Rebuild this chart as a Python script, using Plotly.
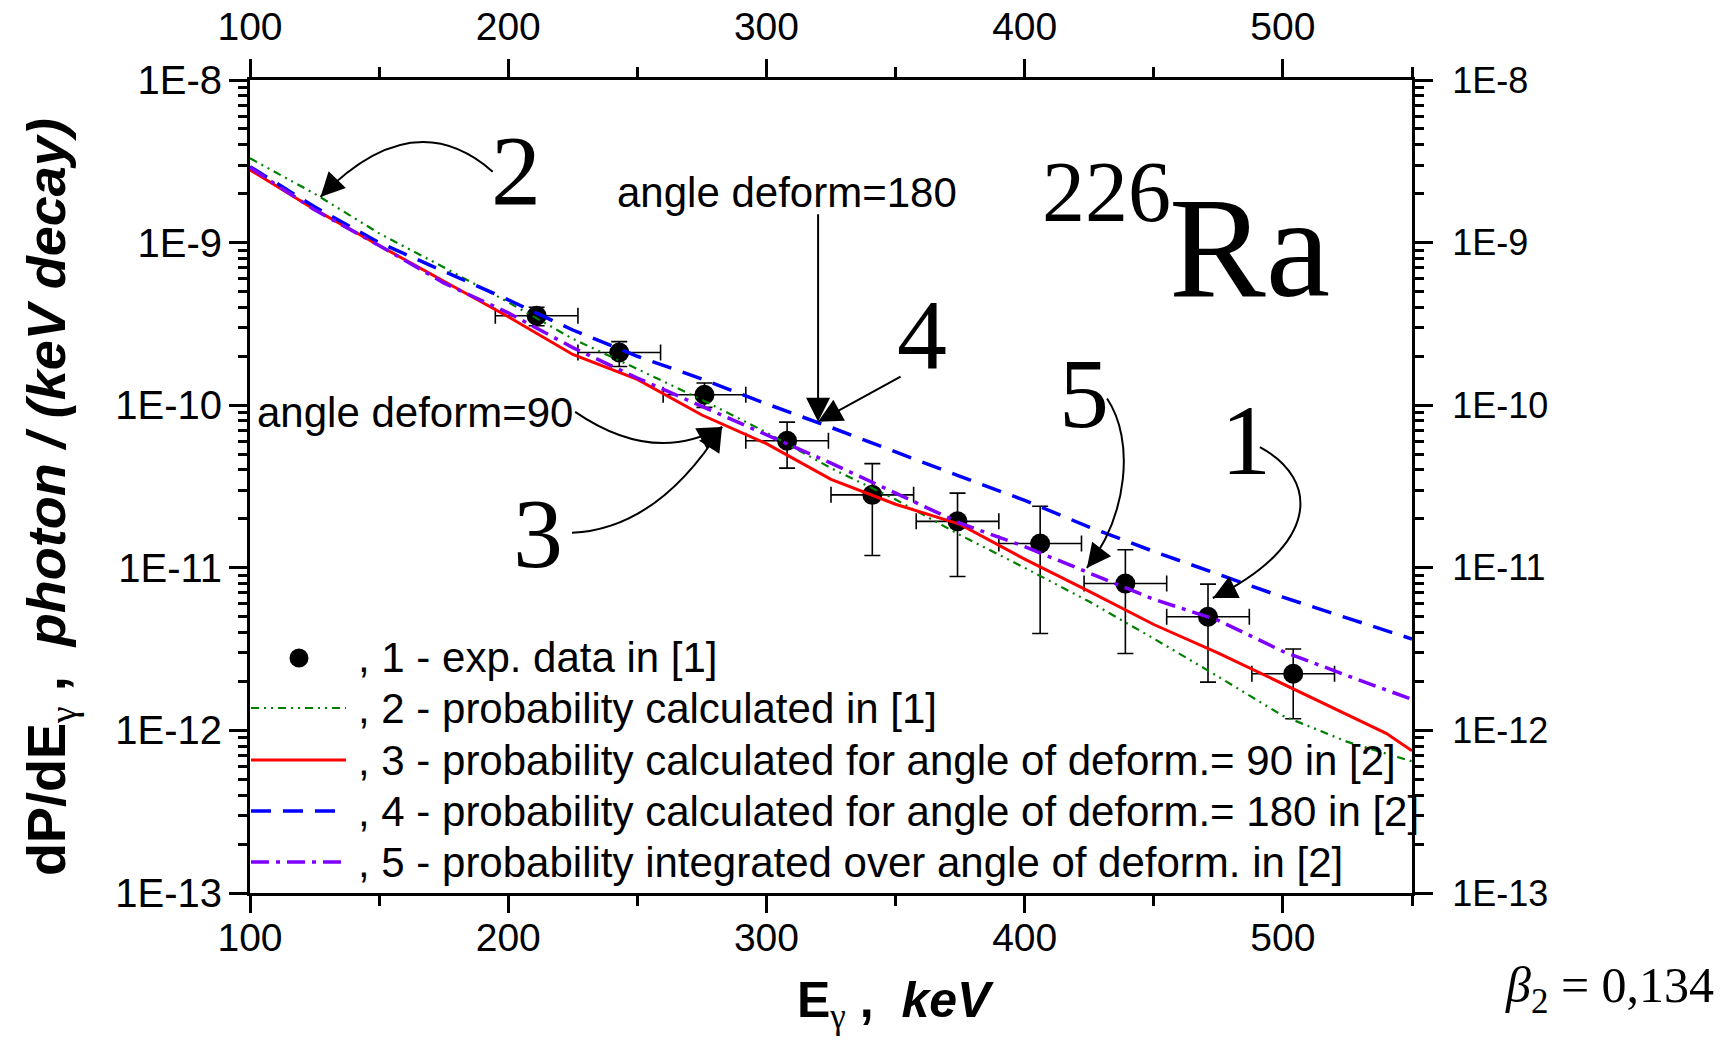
import math
import plotly.graph_objects as go

# ---------------- data ----------------
# experimental points, exp. data in [1]
e_exp = [211, 243, 276, 308, 341, 374, 406, 439, 471, 504]
p_exp = [3.55e-10, 2.11e-10, 1.16e-10, 6.04e-11, 2.81e-11, 1.93e-11, 1.41e-11, 8.0e-12, 5.0e-12, 2.23e-12]
p_exp_hi = [4.0e-10, 2.46e-10, 1.37e-10, 7.87e-11, 4.37e-11, 2.88e-11, 2.39e-11, 1.29e-11, 7.94e-12, 3.17e-12]
p_exp_lo = [3.08e-10, 1.73e-10, 9.7e-11, 4.1e-11, 1.19e-11, 8.85e-12, 3.94e-12, 2.97e-12, 1.98e-12, 1.18e-12]
e_exp_err = [16, 16, 16, 16, 16, 16, 16, 16, 16, 16]

# calculated spectra, photon energy grid (keV)
e_calc = [100, 125, 150, 175, 200, 225, 250, 275, 300, 325, 350, 375, 400, 425, 450, 475, 500, 525, 540, 550]
# 2 - probability calculated in [1]
p_calc_ref1 = [3.3e-9, 2.0e-9, 1.14e-9, 7.05e-10, 4.3e-10, 2.56e-10, 1.67e-10, 1.08e-10, 6.8e-11, 4.1e-11,
               2.63e-11, 1.59e-11, 1.0e-11, 6.2e-12, 3.67e-12, 2.14e-12, 1.23e-12, 8.5e-13, 7.2e-13, 6.45e-13]
# 3 - angle of deformation 90
p_calc_90 = [2.8e-9, 1.6e-9, 9.6e-10, 5.82e-10, 3.5e-10, 2.05e-10, 1.44e-10, 8.7e-11, 5.8e-11, 3.5e-11,
             2.46e-11, 1.85e-11, 1.13e-11, 7.16e-12, 4.48e-12, 2.99e-12, 1.93e-12, 1.25e-12, 9.6e-13, 7.5e-13]
# 4 - angle of deformation 180
p_calc_180 = [2.93e-9, 1.66e-9, 1.0e-9, 6.64e-10, 4.45e-10, 2.9e-10, 2.0e-10, 1.45e-10, 1.02e-10, 7.3e-11,
              5.15e-11, 3.65e-11, 2.6e-11, 1.78e-11, 1.26e-11, 9.1e-12, 6.6e-12, 4.9e-12, 4.1e-12, 3.65e-12]
# 5 - integrated over angle of deformation
p_calc_int = [2.9e-9, 1.59e-9, 9.6e-10, 5.65e-10, 3.7e-10, 2.26e-10, 1.47e-10, 9.85e-11, 6.6e-11, 4.4e-11,
              2.88e-11, 1.88e-11, 1.35e-11, 9.3e-12, 6.4e-12, 4.75e-12, 3.06e-12, 2.17e-12, 1.78e-12, 1.55e-12]

x_tick_vals = [100, 200, 300, 400, 500]
x_tick_text = ["100", "200", "300", "400", "500"]
x_minor_vals = [150, 250, 350, 450, 550]
y_tick_vals = [1e-13, 1e-12, 1e-11, 1e-10, 1e-9, 1e-8]
y_tick_text = ["1E-13", "1E-12", "1E-11", "1E-10", "1E-9", "1E-8"]

legend_labels = [
    ", 1 - exp. data in [1]",
    ", 2 - probability calculated in [1]",
    ", 3 - probability calculated for angle of deform.= 90 in [2]",
    ", 4 - probability calculated for angle of deform.= 180 in [2]",
    ", 5 - probability integrated over angle of deform. in [2]",
]

# ---------------- styles ----------------
SANS = "Liberation Sans, Arial, sans-serif"
SERIF = "Liberation Serif, Times New Roman, serif"
GAMMA = '<span style="font-family:Liberation Serif;font-weight:normal">γ</span>'

W, H = 1733, 1049
M_L, M_R, M_T, M_B = 250, 321, 80, 156
PW, PH = W - M_L - M_R, H - M_T - M_B
X_MIN, X_MAX = 100, 550
LOG_MIN, LOG_MAX = -13, -8

STYLE_REF1 = dict(color="#008000", width=2.2, dash="8px,5px,2px,5px,2px,5px")
STYLE_90 = dict(color="#ff0000", width=3)
STYLE_180 = dict(color="#0000ff", width=3.5, dash="20px,12px")
STYLE_INT = dict(color="#8000ff", width=3.5, dash="18px,7px,4px,7px")


def to_paper(e, p):
    """Data point (keV, probability) -> paper coordinates."""
    return (e - X_MIN) / (X_MAX - X_MIN), (math.log10(p) - LOG_MIN) / (LOG_MAX - LOG_MIN)


def pgx(px):
    """Horizontal page pixel -> paper x."""
    return (px - M_L) / PW


def pgy(py):
    """Vertical page pixel (from top) -> paper y."""
    return (M_T + PH - py) / PH


fig = go.Figure()

# experimental points with error bars
fig.add_trace(go.Scatter(
    x=e_exp, y=p_exp, mode="markers",
    marker=dict(symbol="circle", size=20, color="black"),
    error_x=dict(type="data", array=e_exp_err, color="black", thickness=1.6, width=8),
    error_y=dict(type="data", symmetric=False,
                 array=[h - v for h, v in zip(p_exp_hi, p_exp)],
                 arrayminus=[v - l for v, l in zip(p_exp, p_exp_lo)],
                 color="black", thickness=1.6, width=8),
    showlegend=False, hoverinfo="skip",
))

for ys, st in [(p_calc_ref1, STYLE_REF1), (p_calc_90, STYLE_90),
               (p_calc_180, STYLE_180), (p_calc_int, STYLE_INT)]:
    fig.add_trace(go.Scatter(x=e_calc, y=ys, mode="lines", line=st,
                             showlegend=False, hoverinfo="skip"))

# carrier for the top and right axes
fig.add_trace(go.Scatter(x=[], y=[], xaxis="x2", yaxis="y2", showlegend=False, hoverinfo="skip"))

minor_y = [k * 10.0 ** e for e in range(-13, -8) for k in range(2, 10)]

axis_common = dict(showline=True, linewidth=3, linecolor="black", showgrid=False, zeroline=False,
                   ticks="outside", tickwidth=2.5, tickcolor="black", automargin=False)
x_minor = dict(tickmode="array", tickvals=x_minor_vals, ticks="outside", ticklen=10,
               tickwidth=2.5, tickcolor="black")
y_minor = dict(tickmode="array", tickvals=minor_y, ticks="outside", ticklen=9,
               tickwidth=2.5, tickcolor="black")

fig.update_layout(
    width=W, height=H, autosize=False,
    margin=dict(l=M_L, r=M_R, t=M_T, b=M_B, pad=0),
    paper_bgcolor="white", plot_bgcolor="white",
    hovermode=False,
    xaxis=dict(range=[X_MIN, X_MAX], tickmode="array", tickvals=x_tick_vals, ticktext=x_tick_text,
               ticklen=17, ticklabelstandoff=-9,
               tickfont=dict(family=SANS, size=39, color="black"),
               minor=x_minor, **axis_common),
    xaxis2=dict(range=[X_MIN, X_MAX], overlaying="x", side="top", anchor="y2",
                tickmode="array", tickvals=x_tick_vals, ticktext=x_tick_text,
                ticklen=18, ticklabelstandoff=3,
                tickfont=dict(family=SANS, size=39, color="black"),
                minor=x_minor, **axis_common),
    yaxis=dict(type="log", range=[LOG_MIN, LOG_MAX], tickmode="array", tickvals=y_tick_vals,
               ticktext=y_tick_text, ticklen=18, ticklabelstandoff=-1,
               tickfont=dict(family=SANS, size=40, color="black"),
               minor=y_minor, **axis_common),
    yaxis2=dict(type="log", range=[LOG_MIN, LOG_MAX], overlaying="y", side="right", anchor="x2",
                tickmode="array", tickvals=y_tick_vals, ticktext=y_tick_text,
                ticklen=18, ticklabelstandoff=12,
                tickfont=dict(family=SANS, size=36, color="black"),
                minor=y_minor, **axis_common),
)

annotations = []
shapes = []

# axis titles
annotations.append(dict(
    text="<b>E<sub>" + GAMMA + "</sub> ,  <i>keV</i></b>", xref="paper", yref="paper",
    x=pgx(895), y=pgy(970), xanchor="center", yanchor="top", showarrow=False,
    font=dict(family=SANS, size=50, color="black")))
annotations.append(dict(
    text="<b>dP/dE<sub>" + GAMMA + "</sub> ,  <i>photon / (keV decay)</i></b>",
    xref="paper", yref="paper",
    x=pgx(50), y=pgy(497), xanchor="center", yanchor="middle", textangle=-90, showarrow=False,
    font=dict(family=SANS, size=54, color="black")))

# nucleus and deformation parameter
annotations.append(dict(text="226", xref="paper", yref="paper", x=pgx(1106), y=pgy(192),
                        xanchor="center", yanchor="middle", showarrow=False,
                        font=dict(family=SERIF, size=86, color="black")))
annotations.append(dict(text="Ra", xref="paper", yref="paper", x=pgx(1249), y=pgy(247),
                        xanchor="center", yanchor="middle", showarrow=False,
                        font=dict(family=SERIF, size=145, color="black")))
annotations.append(dict(text="<i>β</i><sub>2</sub> = 0,134", xref="paper", yref="paper",
                        x=pgx(1609), y=pgy(989), xanchor="center", yanchor="middle", showarrow=False,
                        font=dict(family=SERIF, size=50, color="black")))

# curve numbers
for txt, cx, cy in [("2", 516, 170), ("4", 922, 334), ("3", 538, 533),
                    ("5", 1084, 393), ("1", 1246, 440)]:
    annotations.append(dict(text=txt, xref="paper", yref="paper", x=pgx(cx), y=pgy(cy),
                            xanchor="center", yanchor="middle", showarrow=False,
                            font=dict(family=SERIF, size=100, color="black")))

# text labels for the deformation angles
annotations.append(dict(text="angle deform=180", xref="paper", yref="paper",
                        x=pgx(787), y=pgy(192), xanchor="center", yanchor="middle", showarrow=False,
                        font=dict(family=SANS, size=42, color="black")))
annotations.append(dict(text="angle deform=90", xref="paper", yref="paper",
                        x=pgx(415), y=pgy(412), xanchor="center", yanchor="middle", showarrow=False,
                        font=dict(family=SANS, size=42, color="black")))

# straight pointers onto curve 4
tip4 = to_paper(320.0, 7.9e-11)
for ax, ay in [(0, -209), (84, -46)]:
    annotations.append(dict(text="", xref="paper", yref="paper", x=tip4[0], y=tip4[1],
                            ax=ax, ay=ay, showarrow=True, arrowhead=2, arrowsize=2.4,
                            arrowwidth=2, arrowcolor="black", standoff=0))

# curved pointers: control points given as (keV, probability)
curved_pointers = [
    [(194.0, 2.73e-9), (163.2, 7.35e-9), (127.3, 1.91e-9)],                       # "2"
    [(225.9, 9.1e-11), (256.3, 4.26e-11), (282.8, 7.35e-11)],                     # "angle deform=90"
    [(224.7, 1.64e-11), (258.0, 1.74e-11), (282.8, 7.35e-11)],                    # "3"
    [(431.9, 1.1e-10), (442.7, 6.1e-11), (440.0, 2.11e-11), (424.1, 9.98e-12)],   # "5"
    [(491.1, 5.53e-11), (514.4, 3.47e-11), (514.4, 1.38e-11), (472.9, 6.52e-12)], # "1"
]
for pts in curved_pointers:
    pp = [to_paper(e, p) for e, p in pts]
    if len(pp) == 3:
        path = "M {},{} Q {},{} {},{}".format(*pp[0], *pp[1], *pp[2])
    else:
        path = "M {},{} C {},{} {},{} {},{}".format(*pp[0], *pp[1], *pp[2], *pp[3])
    shapes.append(dict(type="path", path=path, xref="paper", yref="paper",
                       line=dict(color="black", width=2)))
    # arrowhead along the end tangent
    (cx, cy), (tx, ty) = pp[-2], pp[-1]
    dx, dy = (cx - tx) * PW, -(cy - ty) * PH
    n = math.hypot(dx, dy)
    annotations.append(dict(text="", xref="paper", yref="paper", x=tx, y=ty,
                            ax=dx / n * 24, ay=dy / n * 24, showarrow=True, arrowhead=2,
                            arrowsize=2.4, arrowwidth=2, arrowcolor="black", standoff=0))

# legend drawn inside the plot area
row_y = [pgy(yy) for yy in (658, 708, 760, 811, 862)]
sample_x0, sample_x1 = pgx(251), pgx(346)
marker_cx, r = pgx(299), 9.5
shapes.append(dict(type="circle", xref="paper", yref="paper",
                   x0=marker_cx - r / PW, x1=marker_cx + r / PW,
                   y0=row_y[0] - r / PH, y1=row_y[0] + r / PH,
                   fillcolor="black", line=dict(color="black", width=0)))
for yy, st in zip(row_y[1:], [STYLE_REF1, STYLE_90, STYLE_180, STYLE_INT]):
    shapes.append(dict(type="line", xref="paper", yref="paper", x0=sample_x0, x1=sample_x1,
                       y0=yy, y1=yy, line=st))
for yy, label in zip(row_y, legend_labels):
    annotations.append(dict(text=label, xref="paper", yref="paper", x=pgx(356), y=yy,
                            xanchor="left", yanchor="middle", showarrow=False,
                            font=dict(family=SANS, size=42, color="black")))

fig.update_layout(annotations=annotations, shapes=shapes)

fig.write_html("out.html")
